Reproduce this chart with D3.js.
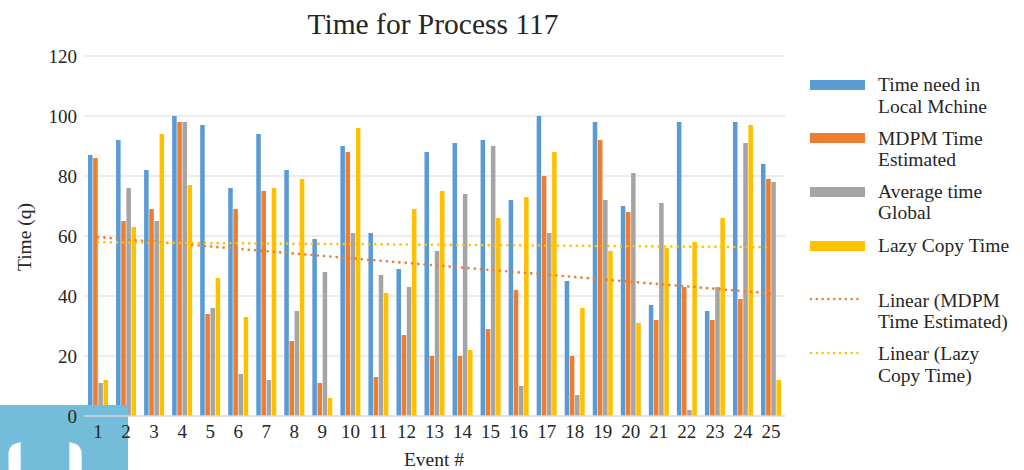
<!DOCTYPE html>
<html>
<head>
<meta charset="utf-8">
<script src="https://cdn.jsdelivr.net/npm/d3@7"></script>
<style>
  html, body { margin: 0; padding: 0; background: #fff; }
  svg { display: block; }
  text { font-family: "Liberation Serif", "Times New Roman", serif; fill: #262626; }
</style>
</head>
<body>
<svg id="chart" width="1024" height="470"></svg>
<script>
const categories = ["1","2","3","4","5","6","7","8","9","10","11","12","13","14","15","16","17","18","19","20","21","22","23","24","25"];
const localMachine = [87,92,82,100,97,76,94,82,59,90,61,49,88,91,92,72,100,45,98,70,37,98,35,98,84];
const mdpmTime     = [86,65,69,98,34,69,75,25,11,88,13,27,20,20,29,42,80,20,92,68,32,43,32,39,79];
const averageTime  = [11,76,65,98,36,14,12,35,48,61,47,43,55,74,90,10,61,7,72,81,71,2,43,91,78];
const lazyCopy     = [12,63,94,77,46,33,76,79,6,96,41,69,75,22,66,73,88,36,55,31,56,58,66,97,12];
const yTicks = [0,20,40,60,80,100,120];
const seriesNames = ["Time need in Local Mchine","MDPM Time Estimated","Average time Global","Lazy Copy Time"];
const seriesColors = ["#5B9BD5","#ED7D31","#A5A5A5","#FFC000"];
const trendNames = ["Linear (MDPM Time Estimated)","Linear (Lazy Copy Time)"];
const legendLines = [["Time need in","Local Mchine"],["MDPM Time","Estimated"],["Average time","Global"],["Lazy Copy Time"],["Linear (MDPM","Time Estimated)"],["Linear (Lazy","Copy Time)"]];

const series = [localMachine, mdpmTime, averageTime, lazyCopy];
const svg = d3.select("#chart");

const plot = {left: 84, right: 785, top: 56, bottom: 416};
const x = d3.scaleBand().domain(categories).range([plot.left, plot.right]);
const x1 = d3.scaleBand().domain(d3.range(4)).range([0, 20]).paddingInner(0.12);
const y = d3.scaleLinear().domain([0, 120]).range([plot.bottom, plot.top]);

// gridlines
svg.append("g").selectAll("line").data(yTicks.filter(d => d > 0)).join("line")
  .attr("x1", plot.left).attr("x2", plot.right)
  .attr("y1", d => y(d)).attr("y2", d => y(d))
  .attr("stroke", "#D9D9D9").attr("stroke-width", 1);

// bars
series.forEach((vals, si) => {
  svg.append("g").selectAll("rect").data(vals).join("rect")
    .attr("x", (d, i) => x(categories[i]) + x.bandwidth() / 2 - 10 + x1(si))
    .attr("width", x1.bandwidth())
    .attr("y", d => y(d))
    .attr("height", d => y(0) - y(d))
    .attr("fill", seriesColors[si]);
});

// trendlines (least-squares fit of the series, as Excel's linear trendline)
function fit(vals) {
  const xs = vals.map((d, i) => i + 1);
  const mx = d3.mean(xs), my = d3.mean(vals);
  const b = d3.sum(xs, (xv, i) => (xv - mx) * (vals[i] - my)) / d3.sum(xs, xv => (xv - mx) ** 2);
  const a = my - b * mx;
  return xs.map(xv => a + b * xv);
}
const trendSeries = [fit(mdpmTime), fit(lazyCopy)];
const trendColors = ["#ED7D31", "#FFC000"];
const line = d3.line().x((d, i) => x(categories[i]) + x.bandwidth() / 2).y(d => y(d));
trendSeries.forEach((t, ti) => {
  svg.append("path")
    .attr("d", line(t))
    .attr("fill", "none").attr("stroke", trendColors[ti])
    .attr("stroke-width", 2.6).attr("stroke-linecap", "round")
    .attr("stroke-dasharray", "0.1 6.2");
});

// overlay patch (bottom-left of the reference image)
svg.append("rect").attr("x", 0).attr("y", 405).attr("width", 128).attr("height", 65).attr("fill", "#73BCDA");
svg.append("path").attr("d", "M8.5,470 L8.5,452 Q10,446 14,444 L20.7,442 L20.7,470 Z").attr("fill", "#fff");
svg.append("path").attr("d", "M69.3,470 L69.3,442 L76,444 Q80,446 81.7,452 L81.7,470 Z").attr("fill", "#fff");

// x axis line
svg.append("line").attr("x1", plot.left).attr("x2", plot.right)
  .attr("y1", y(0)).attr("y2", y(0)).attr("stroke", "#D9D9D9").attr("stroke-width", 1.3);

// y tick labels
const yAxis = d3.axisLeft(y).tickValues(yTicks).tickSize(0).tickPadding(7);
const gy = svg.append("g").attr("transform", `translate(${plot.left},0)`).call(yAxis);
gy.select(".domain").remove();
gy.selectAll("text").style("font-family", "Liberation Serif, serif").style("font-size", "19px").attr("fill", "#262626");

// x tick labels
const xAxis = d3.axisBottom(x).tickSize(0).tickPadding(9);
const gx = svg.append("g").attr("transform", `translate(0,${plot.bottom})`).call(xAxis);
gx.select(".domain").remove();
gx.selectAll("text").style("font-family", "Liberation Serif, serif").style("font-size", "19px").attr("fill", "#262626");

// titles
svg.append("text").attr("x", 433).attr("y", 34).attr("text-anchor", "middle")
  .style("font-size", "29.5px").text("Time for Process 117");
svg.append("text").attr("x", 434).attr("y", 466).attr("text-anchor", "middle")
  .style("font-size", "19.5px").text("Event #");
svg.append("text").attr("transform", "translate(31,237) rotate(-90)").attr("text-anchor", "middle")
  .style("font-size", "19.5px").text("Time (q)");

// legend
const legendY = [85, 138, 192, 246, 299, 353];
const textY = [[91, 113], [145, 166], [198, 219], [252], [307, 328], [360, 382]];
const lg = svg.append("g");
seriesColors.forEach((c, i) => {
  lg.append("rect").attr("x", 810).attr("y", legendY[i] - 5).attr("width", 55).attr("height", 10).attr("fill", c);
});
trendColors.forEach((c, i) => {
  lg.append("line").attr("x1", 811).attr("x2", 863).attr("y1", legendY[4 + i]).attr("y2", legendY[4 + i])
    .attr("stroke", c).attr("stroke-width", 2.4).attr("stroke-linecap", "round").attr("stroke-dasharray", "0.1 5.7");
});
legendLines.forEach((ls, i) => {
  ls.forEach((t, j) => {
    lg.append("text").attr("x", 878).attr("y", textY[i][j]).style("font-size", "19.5px").text(t);
  });
});
</script>
</body>
</html>
